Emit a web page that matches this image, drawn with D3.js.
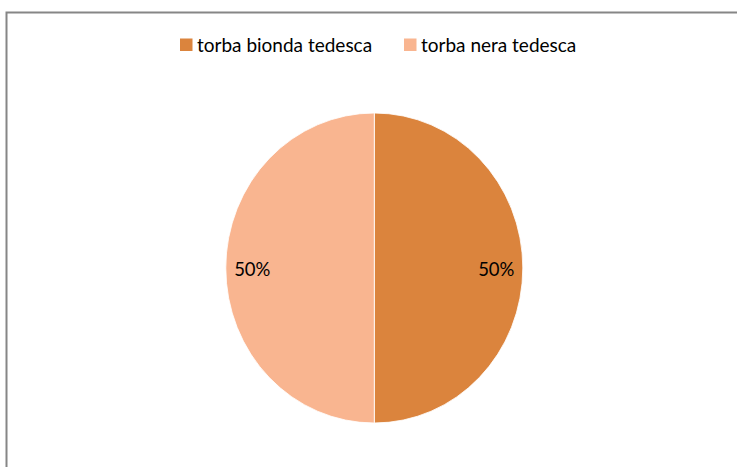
<!DOCTYPE html>
<html>
<head>
<meta charset="utf-8">
<script src="https://cdn.jsdelivr.net/npm/d3@7"></script>
<style>
  html, body { margin: 0; padding: 0; background: #fff; }
  svg { display: block; }
  text { font-family: Lato, "Open Sans", sans-serif; }
</style>
</head>
<body>
<svg id="chart" width="737" height="467"></svg>
<script>
const categories = ["torba bionda tedesca", "torba nera tedesca"];
const values = [50, 50];
const colors = ["#DB843D", "#F9B590"];

const W = 737, H = 467;
const svg = d3.select("#chart");

// frame (only top and left edges visible in the crop)
svg.append("rect")
  .attr("x", 6.5).attr("y", 12.5)
  .attr("width", 800).attr("height", 600)
  .attr("fill", "none").attr("stroke", "#868686").attr("stroke-width", 2);

const cx = 374.3, cy = 268, rx = 148.5, ry = 155;
const data = categories.map((c, i) => ({ name: c, value: values[i] }));
const pie = d3.pie().value(d => d.value).sort(null);
const arcs = pie(data);
const arc = d3.arc().innerRadius(0).outerRadius(rx);
const color = d3.scaleOrdinal().domain(categories).range(colors);

const g = svg.append("g")
  .attr("transform", `translate(${cx},${cy}) scale(1,${ry / rx})`);
g.selectAll("path").data(arcs).enter().append("path")
  .attr("d", arc)
  .attr("fill", d => color(d.data.name))
  .attr("stroke", "#fff")
  .attr("stroke-width", 0.8);

// labels
const fmt = d3.format(".0%");
const total = d3.sum(values);
svg.selectAll("text.lbl").data(arcs).enter().append("text")
  .attr("class", "lbl")
  .attr("x", d => cx + Math.sin((d.startAngle + d.endAngle) / 2) * 122)
  .attr("y", d => cy - Math.cos((d.startAngle + d.endAngle) / 2) * 122 + 8)
  .attr("text-anchor", "middle")
  .attr("font-size", 18.5)
  .attr("fill", "#000")
  .text(d => fmt(d.data.value / total));

// legend
const legendX = [180, 404];
const lg = svg.selectAll("g.leg").data(categories).enter().append("g")
  .attr("class", "leg")
  .attr("transform", (d, i) => `translate(${legendX[i]},0)`);
lg.append("rect")
  .attr("x", 0).attr("y", 38.5).attr("width", 12.5).attr("height", 12.5)
  .attr("fill", d => color(d));
lg.append("text")
  .attr("x", 17).attr("y", 52)
  .attr("font-size", 19)
  .attr("fill", "#000")
  .text(d => d);
</script>
</body>
</html>
